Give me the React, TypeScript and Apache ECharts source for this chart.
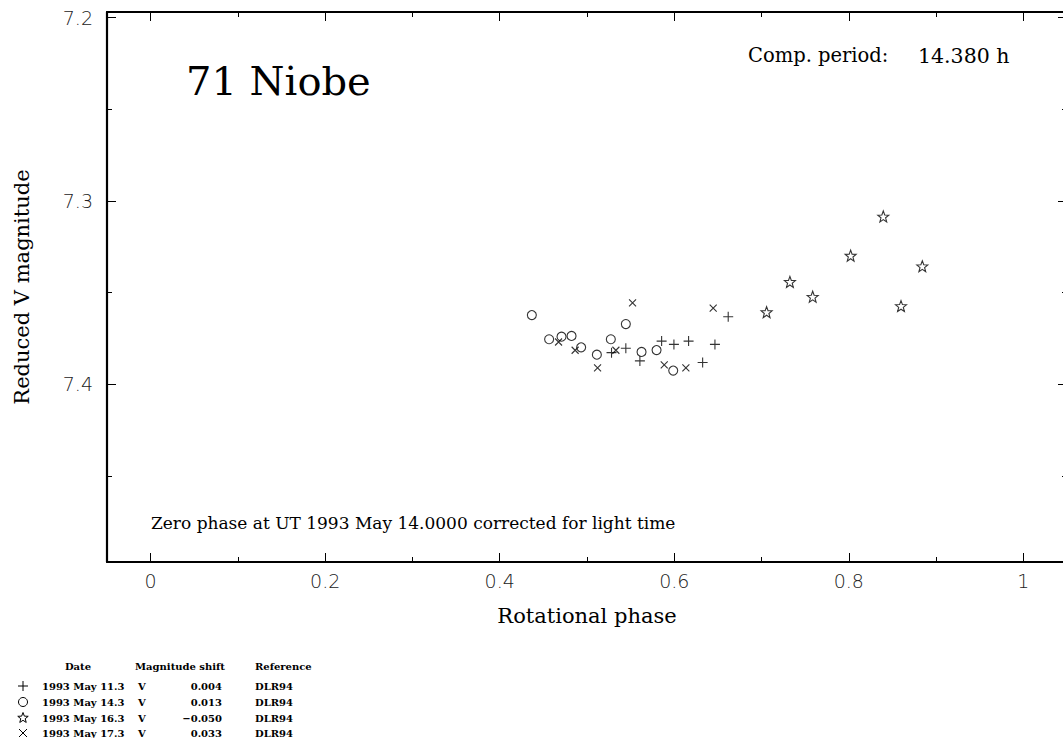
import React, { useEffect, useRef } from 'react';
import * as echarts from 'echarts';

// ---- data (rotational phase, reduced V magnitude) ----
const plusData: number[][] = [
  [0.5281, 7.3828], [0.5445, 7.3804], [0.5606, 7.3873], [0.5855, 7.3765],
  [0.5996, 7.3783], [0.6164, 7.3765], [0.6325, 7.3882], [0.6466, 7.3783],
  [0.6618, 7.3632],
];
const circleData: number[][] = [
  [0.4368, 7.3623], [0.4566, 7.3755], [0.4708, 7.3741], [0.4823, 7.3737],
  [0.4933, 7.3799], [0.5113, 7.3839], [0.5273, 7.3755], [0.5445, 7.3672],
  [0.5625, 7.3824], [0.5797, 7.3814], [0.5988, 7.3926],
];
const starData: number[][] = [
  [0.7058, 7.3607], [0.7325, 7.3442], [0.7586, 7.3523], [0.8021, 7.3299],
  [0.8395, 7.3085], [0.8598, 7.3574], [0.8842, 7.3357],
];
const crossData: number[][] = [
  [0.4674, 7.3770], [0.4864, 7.3815], [0.5121, 7.3911], [0.5331, 7.3815],
  [0.5522, 7.3556], [0.5885, 7.3895], [0.6133, 7.3911], [0.6446, 7.3585],
];

const xMajor = [0, 0.2, 0.4, 0.6, 0.8, 1];
const xMinor = [0.1, 0.3, 0.5, 0.7, 0.9];
const yMajor = [7.2, 7.3, 7.4];
const yMinor = [7.25, 7.35, 7.45];

const legendHeader = ['Date', 'Magnitude shift', 'Reference'];
const legendMarkers = ['plus', 'circle', 'star', 'cross'];
const legendDates = ['1993 May 11.3', '1993 May 14.3', '1993 May 16.3', '1993 May 17.3'];
const legendBands = ['V', 'V', 'V', 'V'];
const legendShifts = ['0.004', '0.013', '\u22120.050', '0.033'];
const legendRefs = ['DLR94', 'DLR94', 'DLR94', 'DLR94'];

const titleText = '71 Niobe';
const periodLabel = 'Comp. period:';
const periodValue = '14.380 h';
const zeroPhaseText = 'Zero phase at UT 1993 May 14.0000 corrected for light time';

function starPoints(cx: number, cy: number, r: number, inner: number): number[][] {
  const pts: number[][] = [];
  for (let i = 0; i < 10; i++) {
    const rr = i % 2 === 0 ? r : r * inner;
    const a = -Math.PI / 2 + (i * Math.PI) / 5;
    pts.push([cx + Math.cos(a) * rr, cy + Math.sin(a) * rr]);
  }
  return pts;
}

const STAR_SYMBOL =
  'path://' +
  starPoints(0, 0, 10, 0.42)
    .map((p, i) => (i === 0 ? 'M' : 'L') + p[0].toFixed(3) + ',' + p[1].toFixed(3))
    .join('') +
  'Z';
const PLUS_SYMBOL = 'path://M5,0L5,10M0,5L10,5';
const CROSS_SYMBOL = 'path://M0,0L10,10M10,0L0,10';

const SERIF = "'DejaVu Serif', serif";
const SANS = "'DejaVu Sans', sans-serif";

export default function App() {
  const ref = useRef<HTMLDivElement>(null);

  useEffect(() => {
    if (!ref.current) return;
    const chart = echarts.init(ref.current, null, { renderer: 'svg' });

    const frameLine = { show: true, onZero: false, lineStyle: { color: '#000', width: 2.2 } };
    const tickStyle = { color: '#000', width: 1 };
    const axisFont = { fontFamily: SANS, fontSize: 19, color: '#222', fontWeight: 200 as any };
    const xMin = -0.05, xMax = 1.05, yMin = 7.197, yMax = 7.497;

    const xAxisBase = { type: 'value' as const, min: xMin, max: xMax, splitLine: { show: false } };
    const yAxisBase = { type: 'value' as const, min: yMin, max: yMax, inverse: true, splitLine: { show: false } };

    const strokeItem = { color: 'rgba(0,0,0,0)', borderColor: '#000', borderWidth: 1.1 };

    const graphic: any[] = [
      { type: 'text', left: 186, top: 61, style: { text: titleText, fontFamily: SERIF, fontSize: 40, fill: '#000' } },
      { type: 'text', left: 748, top: 45, style: { text: periodLabel, fontFamily: SERIF, fontSize: 19.5, fill: '#000' } },
      { type: 'text', left: 918, top: 45, style: { text: periodValue, fontFamily: SERIF, fontSize: 20.5, fill: '#000' } },
      { type: 'text', left: 151, top: 514, style: { text: zeroPhaseText, fontFamily: SERIF, fontSize: 17, fill: '#000' } },
    ];

    const legendFont = { fontFamily: SERIF, fontSize: 10, fontWeight: 'bold' as any, fill: '#000' };
    const headerY = 666;
    const rowY = [686, 702, 718, 733];
    graphic.push({ type: 'text', x: 78, y: headerY, style: { ...legendFont, text: legendHeader[0], align: 'center', verticalAlign: 'middle' } });
    graphic.push({ type: 'text', x: 180, y: headerY, style: { ...legendFont, text: legendHeader[1], align: 'center', verticalAlign: 'middle' } });
    graphic.push({ type: 'text', x: 255, y: headerY, style: { ...legendFont, text: legendHeader[2], align: 'left', verticalAlign: 'middle' } });
    legendMarkers.forEach((m, i) => {
      const y = rowY[i];
      const cx = 23;
      const ls = { stroke: '#000', lineWidth: 1, fill: 'none' };
      if (m === 'plus') {
        graphic.push({ type: 'line', shape: { x1: cx - 5, y1: y, x2: cx + 5, y2: y }, style: ls });
        graphic.push({ type: 'line', shape: { x1: cx, y1: y - 5, x2: cx, y2: y + 5 }, style: ls });
      } else if (m === 'circle') {
        graphic.push({ type: 'circle', shape: { cx, cy: y, r: 4.5 }, style: ls });
      } else if (m === 'star') {
        graphic.push({ type: 'polygon', shape: { points: starPoints(cx, y, 5.5, 0.42) }, style: ls });
      } else {
        graphic.push({ type: 'line', shape: { x1: cx - 4, y1: y - 4, x2: cx + 4, y2: y + 4 }, style: ls });
        graphic.push({ type: 'line', shape: { x1: cx - 4, y1: y + 4, x2: cx + 4, y2: y - 4 }, style: ls });
      }
      graphic.push({ type: 'text', x: 42, y, style: { ...legendFont, text: legendDates[i], align: 'left', verticalAlign: 'middle' } });
      graphic.push({ type: 'text', x: 138, y, style: { ...legendFont, text: legendBands[i], align: 'left', verticalAlign: 'middle' } });
      graphic.push({ type: 'text', x: 222, y, style: { ...legendFont, text: legendShifts[i], align: 'right', verticalAlign: 'middle' } });
      graphic.push({ type: 'text', x: 255, y, style: { ...legendFont, text: legendRefs[i], align: 'left', verticalAlign: 'middle' } });
    });

    chart.setOption({
      animation: false,
      backgroundColor: '#fff',
      grid: { left: 107, right: 8, top: 12, bottom: 176, containLabel: false },
      xAxis: [
        {
          ...xAxisBase, position: 'bottom', axisLine: frameLine,
          axisTick: { show: true, inside: true, length: 9, customValues: xMajor, lineStyle: tickStyle },
          axisLabel: { ...axisFont, customValues: xMajor, margin: 9 },
          name: 'Rotational phase', nameLocation: 'middle', nameGap: 43,
          nameTextStyle: { fontFamily: SERIF, fontSize: 21, color: '#000' },
        },
        {
          ...xAxisBase, position: 'bottom', axisLine: { show: false, onZero: false },
          axisTick: { show: true, inside: true, length: 5, customValues: xMinor, lineStyle: tickStyle },
          axisLabel: { show: false },
        },
        {
          ...xAxisBase, position: 'top', axisLine: frameLine,
          axisTick: { show: true, inside: true, length: 9, customValues: xMajor, lineStyle: tickStyle },
          axisLabel: { show: false },
        },
        {
          ...xAxisBase, position: 'top', axisLine: { show: false, onZero: false },
          axisTick: { show: true, inside: true, length: 5, customValues: xMinor, lineStyle: tickStyle },
          axisLabel: { show: false },
        },
      ],
      yAxis: [
        {
          ...yAxisBase, position: 'left', axisLine: frameLine,
          axisTick: { show: true, inside: true, length: 9, customValues: yMajor, lineStyle: tickStyle },
          axisLabel: { ...axisFont, customValues: yMajor, margin: 14, formatter: (v: number) => v.toFixed(1) },
          name: 'Reduced V magnitude', nameLocation: 'middle', nameGap: 75,
          nameTextStyle: { fontFamily: SERIF, fontSize: 21, color: '#000' },
        },
        {
          ...yAxisBase, position: 'left', axisLine: { show: false, onZero: false },
          axisTick: { show: true, inside: true, length: 5, customValues: yMinor, lineStyle: tickStyle },
          axisLabel: { show: false },
        },
        {
          ...yAxisBase, position: 'right', axisLine: frameLine,
          axisTick: { show: true, inside: true, length: 9, customValues: yMajor, lineStyle: tickStyle },
          axisLabel: { show: false },
        },
        {
          ...yAxisBase, position: 'right', axisLine: { show: false, onZero: false },
          axisTick: { show: true, inside: true, length: 5, customValues: yMinor, lineStyle: tickStyle },
          axisLabel: { show: false },
        },
      ],
      series: [
        { type: 'scatter', name: '1993 May 11.3', data: plusData, symbol: PLUS_SYMBOL, symbolSize: 10, itemStyle: strokeItem, xAxisIndex: 0, yAxisIndex: 0 },
        { type: 'scatter', name: '1993 May 14.3', data: circleData, symbol: 'circle', symbolSize: 9, itemStyle: strokeItem, xAxisIndex: 0, yAxisIndex: 0 },
        { type: 'scatter', name: '1993 May 16.3', data: starData, symbol: STAR_SYMBOL, symbolSize: 11, itemStyle: strokeItem, xAxisIndex: 0, yAxisIndex: 0 },
        { type: 'scatter', name: '1993 May 17.3', data: crossData, symbol: CROSS_SYMBOL, symbolSize: 7, itemStyle: strokeItem, xAxisIndex: 0, yAxisIndex: 0 },
      ],
      graphic,
    });

    return () => chart.dispose();
  }, []);

  return (
    <div style={{ position: 'fixed', left: 0, top: 0, width: 1063, height: 738, overflow: 'hidden', background: '#fff' }}>
      <div ref={ref} style={{ width: 1075, height: 738 }} />
    </div>
  );
}
